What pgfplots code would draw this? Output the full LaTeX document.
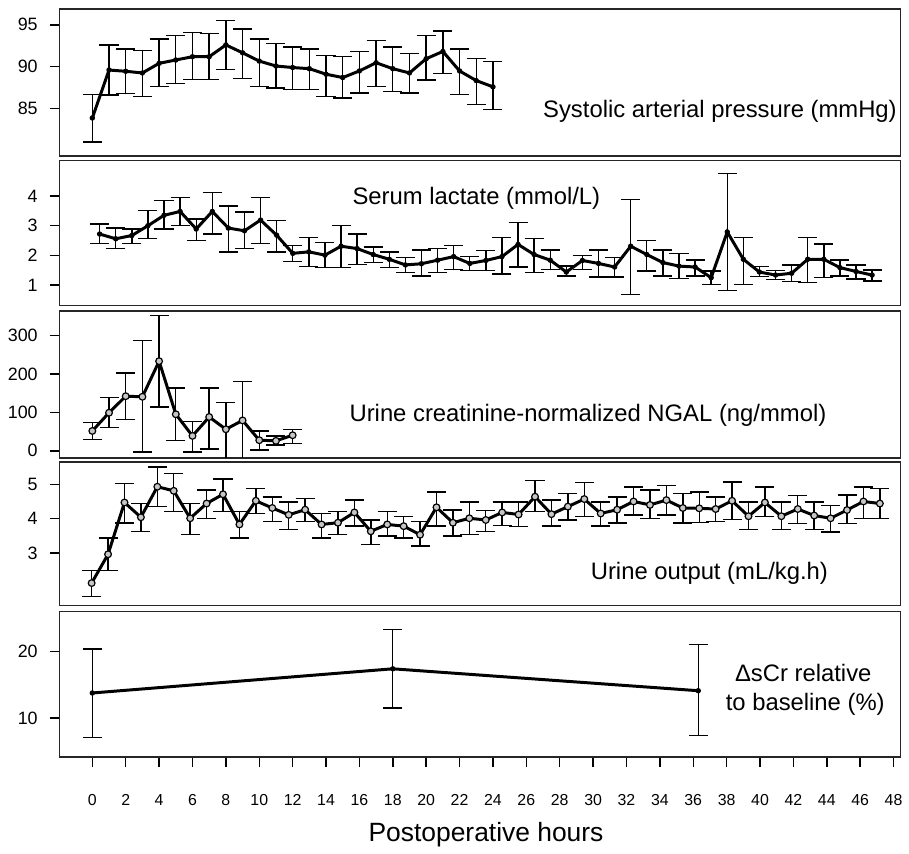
\documentclass[border=0pt]{standalone}
\usepackage{fontspec}
\setmainfont{Liberation Sans}
\usepackage{pgfplots}
\usepackage{pgfplotstable}
\pgfplotsset{compat=1.18}

% t  mean  upper  lower
\pgfplotstableread{
t y hi lo
0 83.87 86.64 80.99
1 89.60 92.57 86.60
2 89.45 92.13 86.80
3 89.25 91.94 86.44
4 90.40 93.30 87.60
5 90.80 93.70 87.96
6 91.19 94.10 88.46
7 91.19 93.95 88.46
8 92.60 95.50 89.64
9 91.66 94.50 88.60
10 90.67 93.30 87.60
11 90.08 92.77 87.43
12 89.90 92.33 87.27
13 89.76 92.13 87.27
14 89.10 91.34 86.44
15 88.70 91.19 86.25
16 89.49 91.78 86.84
17 90.47 93.12 87.60
18 89.76 92.33 87.04
19 89.25 91.58 86.84
20 90.95 93.70 88.42
21 91.82 94.27 89.20
22 89.49 92.13 86.64
23 88.34 90.99 85.50
24 87.59 90.59 84.90
}\sap

\pgfplotstableread{
t y hi lo
0 2.72 3.06 2.40
1 2.56 2.92 2.23
2 2.67 2.89 2.40
3 3.00 3.51 2.57
4 3.35 3.84 2.89
5 3.48 3.95 3.00
6 2.89 3.22 2.51
7 3.48 4.11 2.72
8 2.92 3.67 2.12
9 2.83 3.46 2.23
10 3.19 3.95 2.40
11 2.68 3.17 2.12
12 2.07 2.33 1.79
13 2.12 2.61 1.63
14 2.01 2.44 1.59
15 2.31 3.00 1.59
16 2.23 2.72 1.70
17 2.03 2.28 1.76
18 1.87 2.11 1.59
19 1.68 1.94 1.42
20 1.72 2.18 1.31
21 1.84 2.23 1.42
22 1.96 2.33 1.53
23 1.73 1.96 1.50
24 1.83 2.17 1.50
25 1.96 2.61 1.37
26 2.37 3.11 1.61
27 2.03 2.56 1.42
28 1.84 2.18 1.53
29 1.44 1.64 1.31
30 1.83 2.00 1.53
31 1.73 2.18 1.27
32 1.61 1.92 1.27
33 2.31 3.89 0.68
34 2.03 2.51 1.48
35 1.76 2.18 1.31
36 1.64 2.07 1.23
37 1.61 1.84 1.31
38 1.25 1.48 1.03
39 2.79 4.76 0.81
40 1.87 2.61 1.03
41 1.44 1.62 1.29
42 1.34 1.50 1.19
43 1.40 1.68 1.12
44 1.87 2.61 1.08
45 1.87 2.39 1.25
46 1.59 1.84 1.31
47 1.46 1.68 1.20
48 1.34 1.51 1.14
}\lactate

\pgfplotstableread{
t y hi lo
0 51.7 73.3 30.2
1 99.0 138 60.3
2 142 202 82
3 140.5 286 -3.4
4 233 351 114
5 95 163 26.7
6 38.8 76.7 -3.4
7 88 163 5
8 56 125 -30
9 79 180 -30
10 27.6 51.7 1.7
11 25.9 38.8 14.7
12 40.5 56 19
}\ngal

\pgfplotstableread{
t y hi lo
0 2.12 2.48 1.73
1 2.96 3.43 2.48
2 4.47 5.02 3.87
3 4.04 4.44 3.63
4 4.93 5.50 4.35
5 4.81 5.31 4.21
6 4.01 4.44 3.53
7 4.44 4.83 4.01
8 4.71 5.16 4.21
9 3.83 4.20 3.44
10 4.52 4.88 4.15
11 4.31 4.63 3.92
12 4.11 4.49 3.68
13 4.26 4.59 3.92
14 3.83 4.15 3.43
15 3.88 4.20 3.54
16 4.18 4.54 3.78
17 3.63 3.96 3.25
18 3.83 4.20 3.49
19 3.78 4.07 3.43
20 3.53 3.92 3.20
21 4.33 4.78 3.78
22 3.88 4.25 3.49
23 4.01 4.49 3.53
24 3.96 4.23 3.63
25 4.18 4.49 3.80
26 4.12 4.49 3.77
27 4.64 5.12 4.21
28 4.13 4.54 3.78
29 4.35 4.73 3.96
30 4.57 5.05 4.06
31 4.15 4.49 3.78
32 4.26 4.63 3.87
33 4.50 4.92 4.11
34 4.40 4.83 4.01
35 4.54 4.97 4.11
36 4.31 4.73 3.87
37 4.30 4.78 3.88
38 4.28 4.63 3.92
39 4.52 5.07 3.97
40 4.07 4.49 3.68
41 4.47 4.92 4.07
42 4.07 4.49 3.68
43 4.28 4.68 3.85
44 4.09 4.49 3.68
45 4.01 4.39 3.61
46 4.25 4.69 3.85
47 4.50 4.92 4.01
48 4.44 4.88 4.01
}\urine

\pgfplotstableread{
t y hi lo
0 13.76 20.35 7.13
18 17.38 23.27 11.53
36.3 14.10 21.00 7.40
}\scr

\pgfplotsset{
  panel/.style={
    scale only axis, width=423.5pt, anchor=north west,
    xtick=\empty, tick align=outside, major tick length=5pt,
    ytick pos=left, xtick pos=bottom,
    axis line style={line width=0.8pt, black!85},
    every tick/.style={black, line width=0.75pt},
    /pgf/number format/assume math mode=true,
    yticklabel style={font=\fontsize{9}{10}\selectfont, xshift=-2.5pt},
    clip marker paths=true,
  },
  series/.style={
    black, line width=1.5pt, mark=*, mark size=1.1pt,
    mark options={solid, fill=black, line width=0.5pt},
    error bars/y dir=both, error bars/y explicit,
    error bars/error bar style={line width=0.7pt, black},
    error bars/error mark options={rotate=90, line width=0.7pt, black, mark size=4.8pt},
  },
  ring/.style={mark size=1.7pt, mark options={solid, draw=black, fill=gray!45, line width=0.6pt}},
}

\begin{document}
\begin{tikzpicture}
  \path (-30pt,0) rectangle (424.5pt,-426.5pt);

  % systolic arterial pressure
  \begin{axis}[panel, at={(0,-4.5pt)}, height=74pt,
      xmin=-1.963, xmax=48.42, ymin=79.34, ymax=96.9, ytick={85,90,95}]
    \addplot[series] table[x=t, y=y, y error plus expr=\thisrow{hi}-\thisrow{y}, y error minus expr=\thisrow{y}-\thisrow{lo}] {\sap};
  \end{axis}
  \node[anchor=base west, font=\fontsize{12}{14}\selectfont] at (240pt,-59pt) {Systolic arterial pressure (mmHg)};

  % serum lactate
  \begin{axis}[panel, at={(0,-80.75pt)}, height=73.15pt,
      xmin=-2.49, xmax=49.77, ymin=0.31, ymax=5.2, ytick={1,2,3,4}]
    \addplot[series] table[x=t, y=y, y error plus expr=\thisrow{hi}-\thisrow{y}, y error minus expr=\thisrow{y}-\thisrow{lo}] {\lactate};
  \end{axis}
  \node[anchor=base west, font=\fontsize{12}{14}\selectfont] at (144pt,-103pt) {Serum lactate (mmol/L)};

  % NGAL
  \begin{axis}[panel, at={(0,-156.5pt)}, height=74pt,
      xmin=-1.963, xmax=48.42, ymin=-18, ymax=364, ytick={0,100,200,300}]
    \addplot[series, ring] table[x=t, y=y, y error plus expr=\thisrow{hi}-\thisrow{y}, y error minus expr=\thisrow{y}-\thisrow{lo}] {\ngal};
  \end{axis}
  \node[anchor=base west, font=\fontsize{12}{14}\selectfont] at (142.5pt,-212.5pt) {Urine creatinine-normalized NGAL (ng/mmol)};

  % urine output
  \begin{axis}[panel, at={(0,-232.5pt)}, height=72.5pt,
      xmin=-1.953, xmax=49.26, ymin=1.46, ymax=5.66, ytick={3,4,5}]
    \addplot[series, ring] table[x=t, y=y, y error plus expr=\thisrow{hi}-\thisrow{y}, y error minus expr=\thisrow{y}-\thisrow{lo}] {\urine};
  \end{axis}
  \node[anchor=base west, font=\fontsize{12}{14}\selectfont] at (264pt,-291.85pt) {Urine output (mL/kg.h)};

  % delta sCr
  \begin{axis}[panel, at={(0,-308pt)}, height=73.25pt,
      xmin=-1.963, xmax=48.42, ymin=4.16, ymax=25.94, ytick={10,20},
      xtick={0,2,...,48},
      xticklabel style={font=\fontsize{8}{10}\selectfont, anchor=base, yshift=-19.5pt}]
    \addplot[series] table[x=t, y=y, y error plus expr=\thisrow{hi}-\thisrow{y}, y error minus expr=\thisrow{y}-\thisrow{lo}] {\scr};
  \end{axis}
  \node[anchor=base, font=\fontsize{12}{14}\selectfont] at (374.5pt,-343pt) {ΔsCr relative};
  \node[anchor=base, font=\fontsize{12}{14}\selectfont] at (375.5pt,-358pt) {to baseline (\%)};
  \node[anchor=base, font=\fontsize{13.3}{15}\selectfont] at (214.75pt,-423.6pt) {Postoperative hours};
\end{tikzpicture}
\end{document}
